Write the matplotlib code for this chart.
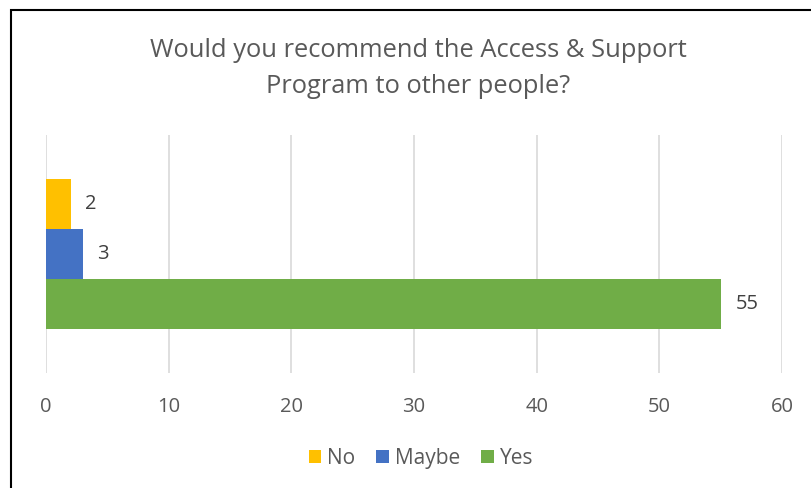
import matplotlib.pyplot as plt
from matplotlib.patches import Rectangle
import numpy as np

plt.rcParams['font.family'] = ['Open Sans', 'DejaVu Sans']

title = 'Would you recommend the Access & Support\nProgram to other people?'
answers = ['Yes', 'Maybe', 'No']
counts = [55, 3, 2]
colors = ['#70AD47', '#4472C4', '#FFC000']
ticks = [0, 10, 20, 30, 40, 50, 60]

fig = plt.figure(figsize=(8.11, 4.88), dpi=100)
ax = fig.add_axes([0.0567, 0.2357, 0.9075, 0.4877])

h = 0.21
offs = [-h, 0, h]
for ans, c, col, o in zip(answers, counts, colors, offs):
    ax.barh(o, c, height=h, color=col, label=ans, zorder=3)
    ax.text(c + 1.2, o, str(c), va='center', ha='left', fontsize=14.5, color='#404040')

ax.set_xlim(0, 60)
ax.set_ylim(-0.5, 0.5)
ax.set_xticks(ticks)
ax.set_yticks([])
ax.tick_params(axis='x', length=0, labelsize=14.5, labelcolor='#595959', pad=17)
ax.grid(axis='x', color='#D9D9D9', lw=1.2, zorder=0)
for s in ax.spines.values():
    s.set_visible(False)

fig.text(0.516, 0.86, title, ha='center', va='center', fontsize=18.4,
         color='#595959', linespacing=1.6)

hnd, lab = ax.get_legend_handles_labels()
fig.legend(hnd[::-1], lab[::-1], loc='center', bbox_to_anchor=(0.519, 0.06), ncol=3,
           frameon=False, fontsize=15, labelcolor='#595959', handlelength=0.6,
           handleheight=0.6, handletextpad=0.3, columnspacing=1.0)

# chart border (left and top edges visible)
fig.patches.append(Rectangle((11 / 811, -0.1), 1.2, 1 - 10 / 488 + 0.1,
                             transform=fig.transFigure, fill=False,
                             edgecolor='black', lw=1.5))

fig.savefig('out.png', dpi=100)
